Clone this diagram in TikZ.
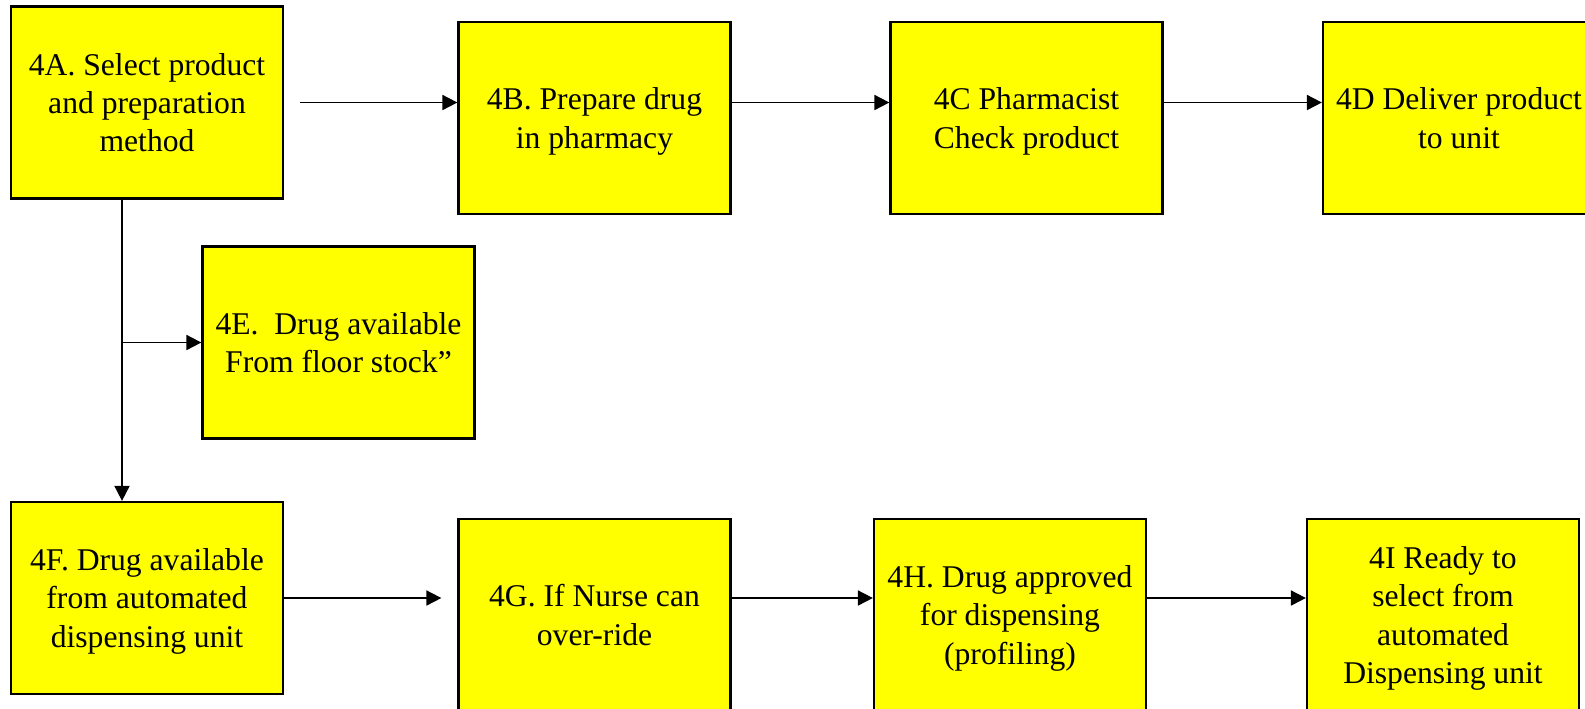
\documentclass[tikz,border=0pt]{standalone}
\usepackage{fontspec}
\setmainfont{Liberation Serif}
\usetikzlibrary{arrows.meta}

\tikzset{
  stepbox/.style={draw, line width=1.3pt, fill={rgb,255:red,255;green,255;blue,0},
    minimum width=5.44cm, minimum height=3.84cm, align=center, inner sep=2pt,
    font=\fontsize{18}{21.8}\selectfont, text depth=-4.5pt},
  flow/.style={line width=1pt, -{Triangle[length=0.3cm,width=0.3cm]}}
}

\begin{document}
\begin{tikzpicture}[x=0.02cm, y=-0.02cm]
            % Page frame (boxes on the right and bottom run past it)
            \useasboundingbox (0,0) rectangle (1585,708);
            \clip (0,0) rectangle (1585,708);

            % Top row
            \node[stepbox] (sel) at (147,102.5) {4A. Select product\\and preparation\\method};
            \node[stepbox] (prep) at (594.5,118) {4B. Prepare drug\\in pharmacy};
            \node[stepbox] (check) at (1026.5,118) {4C Pharmacist\\Check product};
            \node[stepbox] (deliver) at (1459,118) {4D Deliver product\\to unit};

            % Floor stock
            \node[stepbox] (floor) at (338.5,342.5) {4E.\ \ Drug available\\From floor stock”};

            % Bottom row
            \node[stepbox] (auto) at (147,598) {4F. Drug available\\from automated\\dispensing unit};
            \node[stepbox] (nurse) at (594.5,615) {4G. If Nurse can\\over-ride};
            \node[stepbox] (approve) at (1010,615) {4H. Drug approved\\for dispensing\\(profiling)};
            \node[stepbox] (ready) at (1443,615) {4I Ready to\\select from\\automated\\Dispensing unit};

            % Arrows along the top row
            \draw[flow] ([xshift=0.32cm]sel.east) -- (sel.east -| prep.west);
            \draw[flow] (sel.east -| prep.east) -- (sel.east -| check.west);
            \draw[flow] (sel.east -| check.east) -- (sel.east -| deliver.west);

            % Branch down from 4A
            \draw[flow] ([xshift=-0.5cm]sel.south) -- ([xshift=-0.5cm]auto.north);
            \draw[flow] ([xshift=-0.5cm]sel.south |- floor.west) -- (floor.west);

            % Arrows along the bottom row
            \draw[flow] (auto.east) -- ([xshift=-0.32cm]auto.east -| nurse.west);
            \draw[flow] (auto.east -| nurse.east) -- (auto.east -| approve.west);
            \draw[flow] (auto.east -| approve.east) -- (auto.east -| ready.west);

\end{tikzpicture}
\end{document}
